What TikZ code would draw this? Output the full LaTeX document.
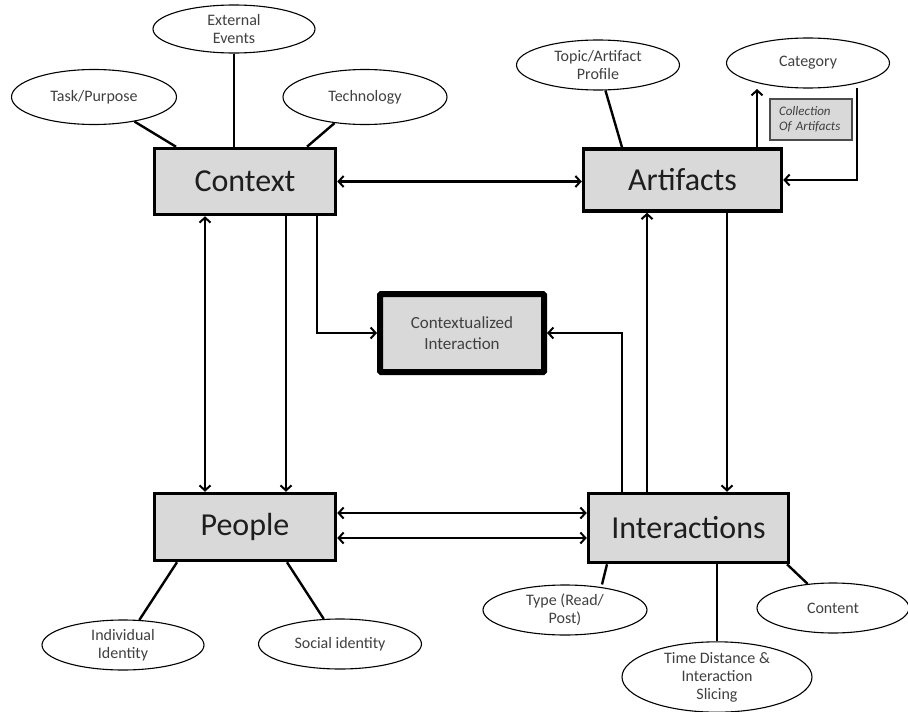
\documentclass[tikz,border=0pt]{standalone}
\usepackage{fontspec}
\setmainfont{Carlito}
\usetikzlibrary{shapes.geometric,arrows.meta}
\definecolor{boxgray}{HTML}{D9D9D9}
\definecolor{txt}{HTML}{1E1E1E}
\tikzset{
  mainbox/.style={draw, line width=3.5pt, fill=boxgray, inner sep=0pt,
    font=\fontsize{32}{36}\selectfont, text=txt},
  hubbox/.style={draw, line width=6pt, fill=boxgray, inner sep=0pt, rounded corners=1pt,
    align=center, font=\fontsize{17}{21}\selectfont, text=txt!85},
  attr/.style={draw, ellipse, line width=1.1pt, fill=white, inner sep=0pt, align=center,
    font=\fontsize{16}{18}\selectfont, text=txt!85},
  note/.style={draw, line width=1.2pt, draw=black!70, fill=boxgray, inner sep=0pt, align=left,
    font=\fontsize{13}{15}\selectfont\itshape, text=txt!85},
  link/.style={line width=2.4pt},
  flow/.style={line width=2.4pt, -{Straight Barb[length=5pt,width=11pt,line width=2pt]}},
  bothflow/.style={line width=2.4pt, {Straight Barb[length=5pt,width=11pt,line width=2pt]}-{Straight Barb[length=5pt,width=11pt,line width=2pt]}}
}
\begin{document}
\begin{tikzpicture}[x=1pt,y=-1pt]
\useasboundingbox (0,0) rectangle (908,712);

% main entities
\node[mainbox, minimum width=181pt, minimum height=66pt] (ctx) at (245,181.5) {Context};
\node[mainbox, minimum width=198pt, minimum height=62pt] (art) at (682.5,180) {Artifacts};
\node[mainbox, minimum width=181pt, minimum height=67pt] (ppl) at (245,527) {People};
\node[mainbox, minimum width=200pt, minimum height=69pt] (int) at (688.5,528) {Interactions};
\node[hubbox, minimum width=164pt, minimum height=78pt] (ci) at (462,333) {Contextualized\\Interaction};
\node[note, minimum width=82pt, minimum height=41pt, text width=64pt] (coll) at (811,119.5) {Collection\\Of Artifacts};

% attributes
\node[attr, minimum width=165pt, minimum height=55pt] (task) at (94,97) {Task/Purpose};
\node[attr, minimum width=162pt, minimum height=48pt] (ext) at (234,29) {External\\Events};
\node[attr, minimum width=164pt, minimum height=55pt] (tech) at (365,97) {Technology};
\node[attr, minimum width=163pt, minimum height=50pt] (topic) at (598,65) {Topic/Artifact\\Profile};
\node[attr, minimum width=163pt, minimum height=50pt] (cat) at (808,63) {Category};
\node[attr, minimum width=162pt, minimum height=50pt] (indiv) at (123,645) {Individual\\Identity};
\node[attr, minimum width=163pt, minimum height=50pt] (social) at (340,644) {Social identity};
\node[attr, minimum width=164pt, minimum height=50pt] (type) at (565,610) {Type (Read/\\Post)};
\node[attr, minimum width=152pt, minimum height=50pt] (content) at (833,608) {Content};
\node[attr, minimum width=190pt, minimum height=63pt] (time) at (717,677) {Time Distance \&\\Interaction\\Slicing};

% attribute links
\draw[link] (task) -- (ctx.north -| 176,0);
\draw[link] (ext) -- (ctx.north -| ext);
\draw[link] (tech) -- (ctx.north -| 307,0);
\draw[link] (topic) -- (art.north -| 622,0);
\draw[link] (indiv) -- (ppl.south -| 177,0);
\draw[link] (social) -- (ppl.south -| 287,0);
\draw[link] (type.north -| 602,0) -- (int.south -| 607,0);
\draw[link] (time) -- (int.south -| time);
\draw[link] (content) -- (int.south -| 787,0);

% category loop
\coordinate (catout) at (857,88);
\coordinate (catin) at (757,89);
\draw[flow] (art.north -| catin) -- (catin);
\draw[flow] (catout) |- (art.east);

% flows between entities
\draw[bothflow] (ctx.east) -- (art.west |- ctx.east);
\draw[bothflow] (ctx.south -| 205,0) -- (ppl.north -| 205,0);
\draw[flow] (ctx.south -| 286,0) -- (ppl.north -| 286,0);
\draw[flow] (ctx.south -| 317,0) |- (ci.west);
\draw[flow] (int.north -| 622,0) |- (ci.east);
\draw[flow] (int.north -| 647,0) -- (art.south -| 647,0);
\draw[flow] (art.south -| 727,0) -- (int.north -| 727,0);
\draw[bothflow] (ppl.east |- 0,513) -- (int.west |- 0,513);
\draw[bothflow] (ppl.east |- 0,538) -- (int.west |- 0,538);
\end{tikzpicture}
\end{document}
